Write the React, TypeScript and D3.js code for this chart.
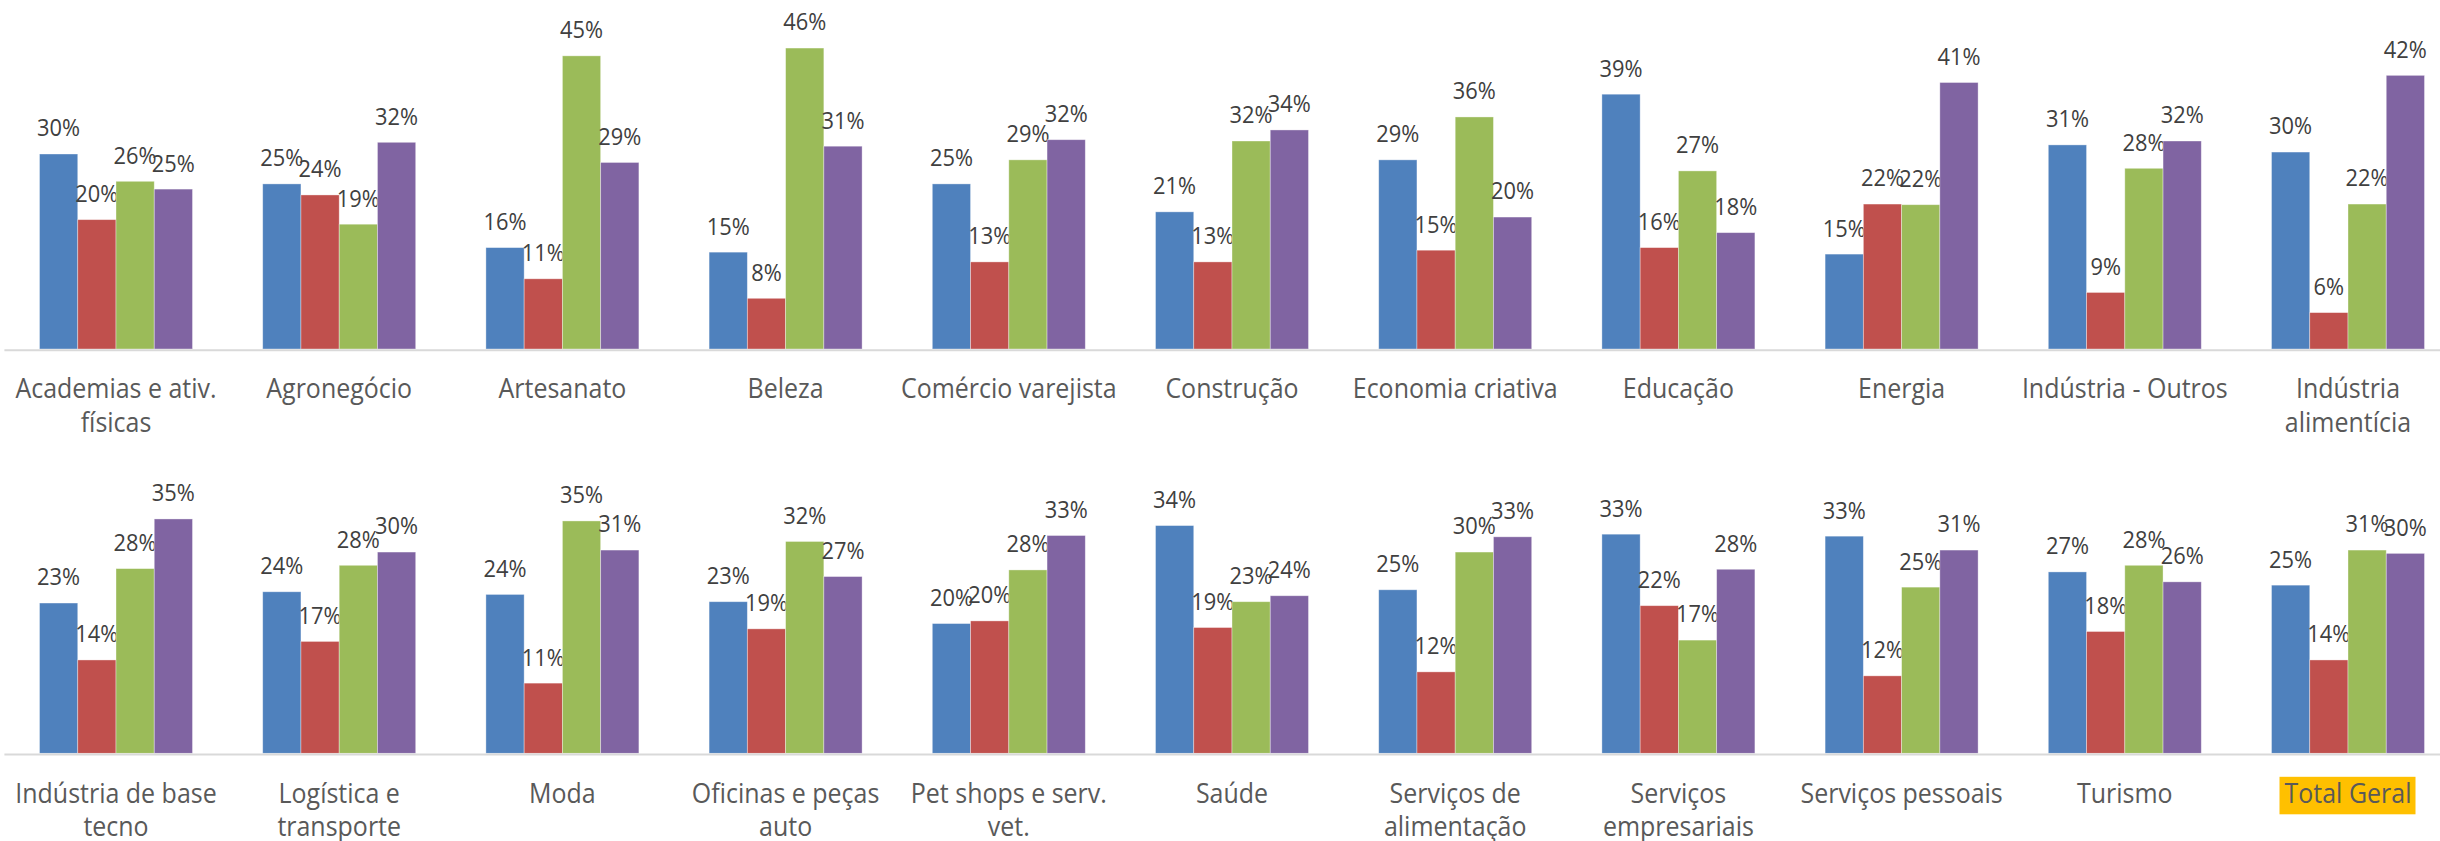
import React from "react";
import * as d3 from "d3";

// ---------- DATA ----------
const topCategories = [
  "Academias e ativ.\nfísicas",
  "Agronegócio",
  "Artesanato",
  "Beleza",
  "Comércio varejista",
  "Construção",
  "Economia criativa",
  "Educação",
  "Energia",
  "Indústria - Outros",
  "Indústria\nalimentícia",
];
const topBlue = [30.0, 25.4, 15.6, 14.9, 25.4, 21.1, 29.1, 39.2, 14.6, 31.4, 30.3];
const topRed = [19.9, 23.7, 10.8, 7.8, 13.4, 13.4, 15.2, 15.6, 22.3, 8.7, 5.6];
const topGreen = [25.8, 19.2, 45.1, 46.3, 29.1, 32.0, 35.7, 27.4, 22.2, 27.8, 22.3];
const topPurple = [24.6, 31.8, 28.7, 31.2, 32.2, 33.7, 20.3, 17.9, 41.0, 32.0, 42.1];

const bottomCategories = [
  "Indústria de base\ntecno",
  "Logística e\ntransporte",
  "Moda",
  "Oficinas e peças\nauto",
  "Pet shops e serv.\nvet.",
  "Saúde",
  "Serviços de\nalimentação",
  "Serviços\nempresariais",
  "Serviços pessoais",
  "Turismo",
  "Total Geral",
];
const bottomBlue = [22.7, 24.4, 24.0, 22.9, 19.6, 34.4, 24.7, 33.1, 32.8, 27.4, 25.4];
const bottomRed = [14.1, 16.9, 10.6, 18.8, 20.0, 19.0, 12.3, 22.3, 11.7, 18.4, 14.1];
const bottomGreen = [27.9, 28.4, 35.1, 32.0, 27.7, 22.9, 30.4, 17.1, 25.1, 28.4, 30.7];
const bottomPurple = [35.4, 30.4, 30.7, 26.7, 32.9, 23.8, 32.7, 27.8, 30.7, 25.9, 30.2];

const highlightedCategory = "Total Geral";
const seriesColors = ["#4F81BD", "#C0504D", "#9BBB59", "#8064A2"];

// ---------- LAYOUT ----------
const W = 2440;
const H = 841;
const FONT = "'Open Sans', 'Segoe UI', 'DejaVu Sans', sans-serif";
const VAL_FS = 24;
const VAL_SX = 0.91;
const CAT_FS = 27;
const CAT_SX = 0.925;

type PanelProps = {
  categories: string[];
  series: number[][];
  baseY: number;
  yMax: number;
  pxPerUnit: number;
};

function Panel({ categories, series, baseY, yMax, pxPerUnit }: PanelProps) {
  const x0 = 4.4;
  const step = 223.2;
  const pad = 1 - 153 / step;
  const xBand = d3
    .scaleBand<string>()
    .domain(categories)
    .range([x0, x0 + step * categories.length])
    .paddingInner(pad)
    .paddingOuter(pad / 2);
  const xSeries = d3
    .scaleBand<number>()
    .domain(series.map((_, i) => i))
    .range([0, xBand.bandwidth()])
    .padding(0);
  const y = d3
    .scaleLinear()
    .domain([0, yMax])
    .range([baseY, baseY - yMax * pxPerUnit]);

  return (
    <g>
      {categories.map((cat, ci) => {
        const gx = xBand(cat)!;
        return (
          <g key={cat} transform={`translate(${gx},0)`}>
            {series.map((vals, si) => {
              const v = vals[ci];
              const bx = xSeries(si)!;
              const bw = xSeries.bandwidth();
              return (
                <g key={si}>
                  <rect
                    x={bx}
                    y={y(v)}
                    width={bw}
                    height={y(0) - y(v)}
                    fill={seriesColors[si]}
                    stroke="rgba(255,255,255,0.45)"
                    strokeWidth={0.8}
                  />
                  <text
                    transform={`translate(${bx + bw / 2},${y(v) - 17.6}) scale(${VAL_SX},1)`}
                    textAnchor="middle"
                    fontSize={VAL_FS}
                    fill="#404040"
                    fontFamily={FONT}
                  >
                    {Math.round(v) + "%"}
                  </text>
                </g>
              );
            })}
          </g>
        );
      })}
      <line
        x1={x0}
        x2={W}
        y1={baseY + 1.2}
        y2={baseY + 1.2}
        stroke="#D9D9D9"
        strokeWidth={2}
      />
      {categories.map((cat) => {
        const cx = xBand(cat)! + xBand.bandwidth() / 2;
        const lines = cat.split("\n");
        const isHL = cat === highlightedCategory;
        return (
          <g key={"lbl-" + cat}>
            {isHL && (
              <rect
                x={cx - 68.5}
                y={baseY + 23.5}
                width={136}
                height={37.5}
                fill="#FFC000"
              />
            )}
            <text
              transform={`translate(${cx},${baseY + 49.2}) scale(${CAT_SX},1)`}
              textAnchor="middle"
              fontSize={CAT_FS}
              fill="#595959"
              fontFamily={FONT}
            >
              {lines.map((ln, li) => (
                <tspan key={li} x={0} y={li * 34}>
                  {ln}
                </tspan>
              ))}
            </text>
          </g>
        );
      })}
    </g>
  );
}

export default function App() {
  return (
    <svg
      width={W}
      height={H}
      viewBox={`0 0 ${W} ${H}`}
      style={{ position: "absolute", left: 0, top: 0, background: "#fff" }}
    >
      <rect x={0} y={0} width={W} height={H} fill="#fff" />
      <Panel
        categories={topCategories}
        series={[topBlue, topRed, topGreen, topPurple]}
        baseY={349}
        yMax={50}
        pxPerUnit={6.5}
      />
      <Panel
        categories={bottomCategories}
        series={[bottomBlue, bottomRed, bottomGreen, bottomPurple]}
        baseY={753.3}
        yMax={40}
        pxPerUnit={6.62}
      />
    </svg>
  );
}
